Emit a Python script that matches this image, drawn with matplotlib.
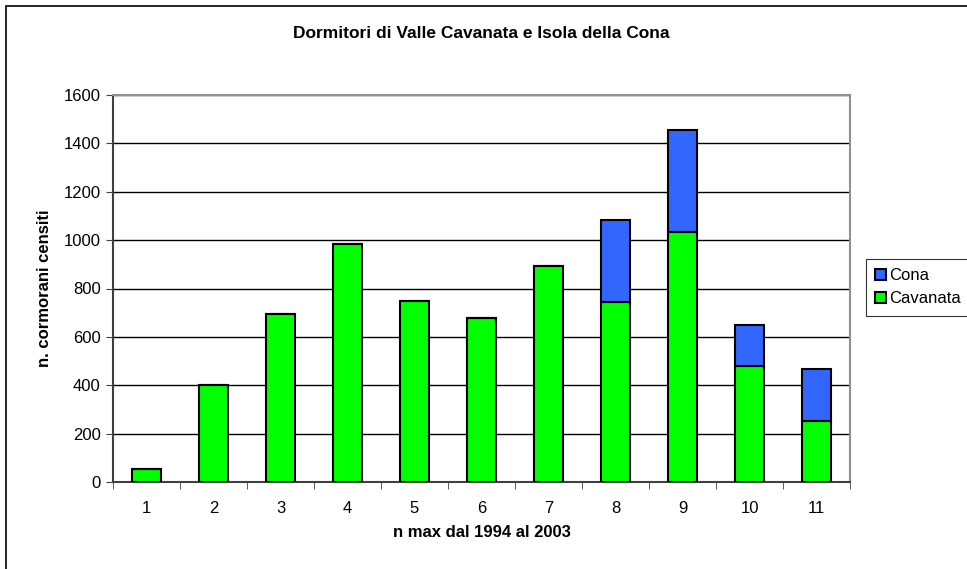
import numpy as np
import matplotlib
matplotlib.use("Agg")
import matplotlib.pyplot as plt
from matplotlib.patches import Rectangle

plt.rcParams['font.family'] = ['Liberation Sans', 'DejaVu Sans']

categories = [str(i) for i in range(1, 12)]
cavanata = [55, 400, 694, 982, 750, 678, 895, 744, 1033, 480, 252]
totals = [55, 400, 694, 982, 750, 678, 895, 1083, 1455, 649, 467]
cona = [t - c for t, c in zip(totals, cavanata)]
yticks = list(range(0, 1601, 200))

green = '#00FF00'
blue = '#3366FF'

fig = plt.figure(figsize=(9.67, 5.69), dpi=100)
ax = fig.add_axes([113 / 967, 1 - 482 / 569, (850 - 113) / 967, (482 - 95) / 569])

x = np.arange(len(categories))
ax.bar(x, cavanata, width=0.42, color=green, edgecolor='black', linewidth=1.5,
       label='Cavanata', zorder=3)
ax.bar(x, cona, width=0.42, bottom=cavanata, color=blue, edgecolor='black',
       linewidth=1.5, label='Cona', zorder=3)

ax.set_xlim(-0.5, len(categories) - 0.5)
ax.set_ylim(0, 1600)
ax.set_yticks(yticks)
ax.set_yticklabels([str(v) for v in yticks], fontsize=12)
ax.set_xticks(x)
ax.set_xticklabels(categories, fontsize=12)
ax.set_xticks(np.arange(-0.5, len(categories)), minor=True)
ax.tick_params(axis='x', which='major', length=0, pad=14)
ax.tick_params(axis='x', which='minor', length=5, direction='out', color='#404040')
ax.tick_params(axis='y', length=5, direction='out', color='#404040', pad=4)

ax.grid(axis='y', color='black', linewidth=1, zorder=0)
ax.set_axisbelow(True)
for side in ['left', 'bottom']:
    ax.spines[side].set_color('#404040')
    ax.spines[side].set_linewidth(1.5)
for side in ['top', 'right']:
    ax.spines[side].set_color('#909090')
    ax.spines[side].set_linewidth(1.5)

ax.set_xlabel('n max dal 1994 al 2003', fontsize=12, fontweight='bold', labelpad=6)
ax.set_ylabel('n. cormorani censiti', fontsize=12, fontweight='bold', labelpad=8)
fig.text(0.5 * (113 + 850) / 967, 1 - 33 / 569,
         'Dormitori di Valle Cavanata e Isola della Cona',
         ha='center', va='center', fontsize=12.5, fontweight='bold')

handles, labels = ax.get_legend_handles_labels()
leg = fig.legend(handles[::-1], labels[::-1], loc='upper left',
                 bbox_to_anchor=(866 / 967, 1 - 259 / 569), fontsize=12,
                 frameon=True, fancybox=False, edgecolor='black',
                 handlelength=0.65, handleheight=0.65, handletextpad=0.2,
                 borderpad=0.55, labelspacing=0.5, borderaxespad=0)
leg.get_frame().set_linewidth(0.8)

fig.patches.append(Rectangle((6 / 967, -0.01), 1.0, 1 - 6 / 569 + 0.01,
                             transform=fig.transFigure, fill=False,
                             edgecolor='black', linewidth=1.2))

fig.savefig('out.png', dpi=100)
